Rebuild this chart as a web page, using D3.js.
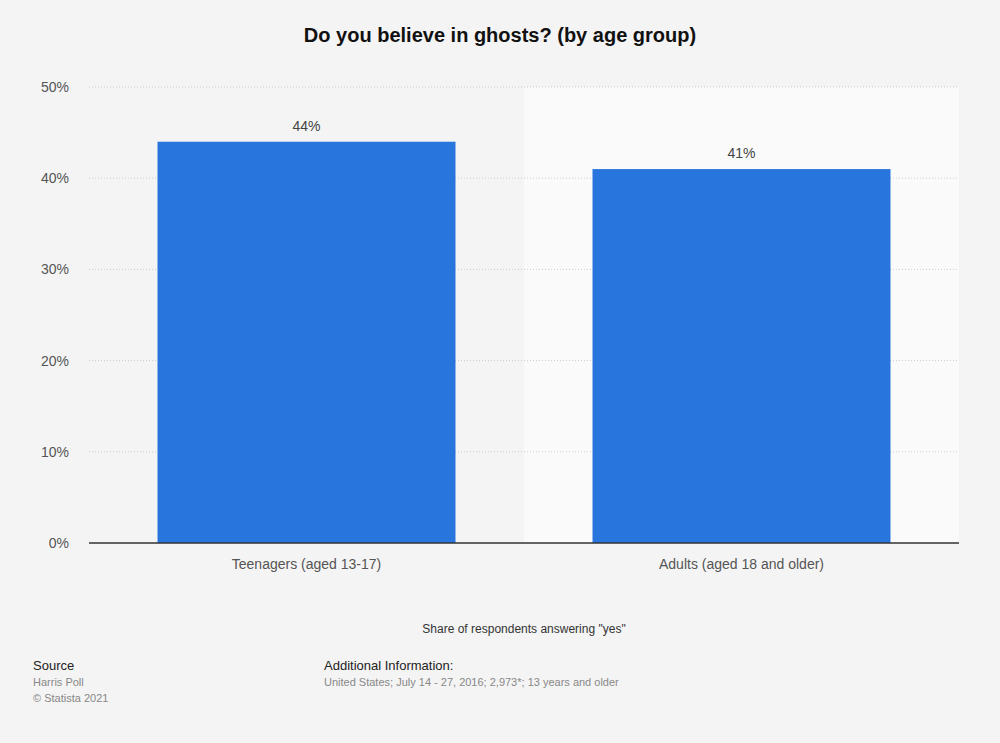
<!DOCTYPE html>
<html><head><meta charset="utf-8">
<script src="https://d3js.org/d3.v7.min.js"></script>
<style>body{margin:0;background:#f4f4f4;font-family:"Liberation Sans",Arial,sans-serif}</style>
</head><body><svg id="c" width="1000" height="743"></svg>
<script>
const categories = ["Teenagers (aged 13-17)", "Adults (aged 18 and older)"];
const values = [44, 41];
const yTicks = [0, 10, 20, 30, 40, 50];

const svg = d3.select("#c");
const m = {l: 89, r: 959, t: 87, b: 543};
const x = d3.scaleBand().domain(categories).range([m.l, m.r]).paddingInner(0).paddingOuter(0);
const y = d3.scaleLinear().domain([0, 50]).range([m.b, m.t]);

svg.append("rect").attr("width", 1000).attr("height", 743).attr("fill", "#f4f4f4");
// alternate band
svg.append("rect").attr("x", x(categories[1])).attr("y", m.t).attr("width", x.bandwidth())
  .attr("height", m.b - m.t).attr("fill", "#fafafa");

svg.append("text").attr("x", 500).attr("y", 42).attr("text-anchor", "middle")
  .attr("font-size", 20).attr("font-weight", "bold").attr("fill", "#111")
  .text("Do you believe in ghosts? (by age group)");

yTicks.forEach(t => {
  if (t > 0) svg.append("line").attr("x1", m.l).attr("x2", m.r).attr("y1", y(t)).attr("y2", y(t))
    .attr("stroke", "#ccc").attr("stroke-dasharray", "1,2");
  svg.append("text").attr("x", 69).attr("y", y(t) + 5).attr("text-anchor", "end")
    .attr("font-size", 14).attr("fill", "#555").text(t + "%");
});

const bw = 298;
categories.forEach((c, i) => {
  const cx = x(c) + x.bandwidth() / 2;
  svg.append("rect").attr("x", cx - bw / 2).attr("y", y(values[i])).attr("width", bw)
    .attr("height", y(0) - y(values[i])).attr("fill", "#2876dd");
  svg.append("text").attr("x", cx).attr("y", y(values[i]) - 11).attr("text-anchor", "middle")
    .attr("font-size", 14).attr("fill", "#444").text(values[i] + "%");
  svg.append("text").attr("x", cx).attr("y", 569).attr("text-anchor", "middle")
    .attr("font-size", 14).attr("fill", "#555").text(c);
});

svg.append("line").attr("x1", m.l).attr("x2", m.r).attr("y1", y(0)).attr("y2", y(0))
  .attr("stroke", "#333").attr("stroke-width", 1.5);

svg.append("text").attr("x", 524).attr("y", 633).attr("text-anchor", "middle")
  .attr("font-size", 12).attr("fill", "#333").text('Share of respondents answering "yes"');

svg.append("text").attr("x", 33).attr("y", 670).attr("font-size", 13).attr("fill", "#222").text("Source");
svg.append("text").attr("x", 33).attr("y", 686).attr("font-size", 11).attr("fill", "#888").text("Harris Poll");
svg.append("text").attr("x", 33).attr("y", 702).attr("font-size", 11).attr("fill", "#888").text("© Statista 2021");
svg.append("text").attr("x", 324).attr("y", 670).attr("font-size", 13).attr("fill", "#222").text("Additional Information:");
svg.append("text").attr("x", 324).attr("y", 686).attr("font-size", 11).attr("fill", "#888")
  .text("United States; July 14 - 27, 2016; 2,973*; 13 years and older");
</script></body></html>
